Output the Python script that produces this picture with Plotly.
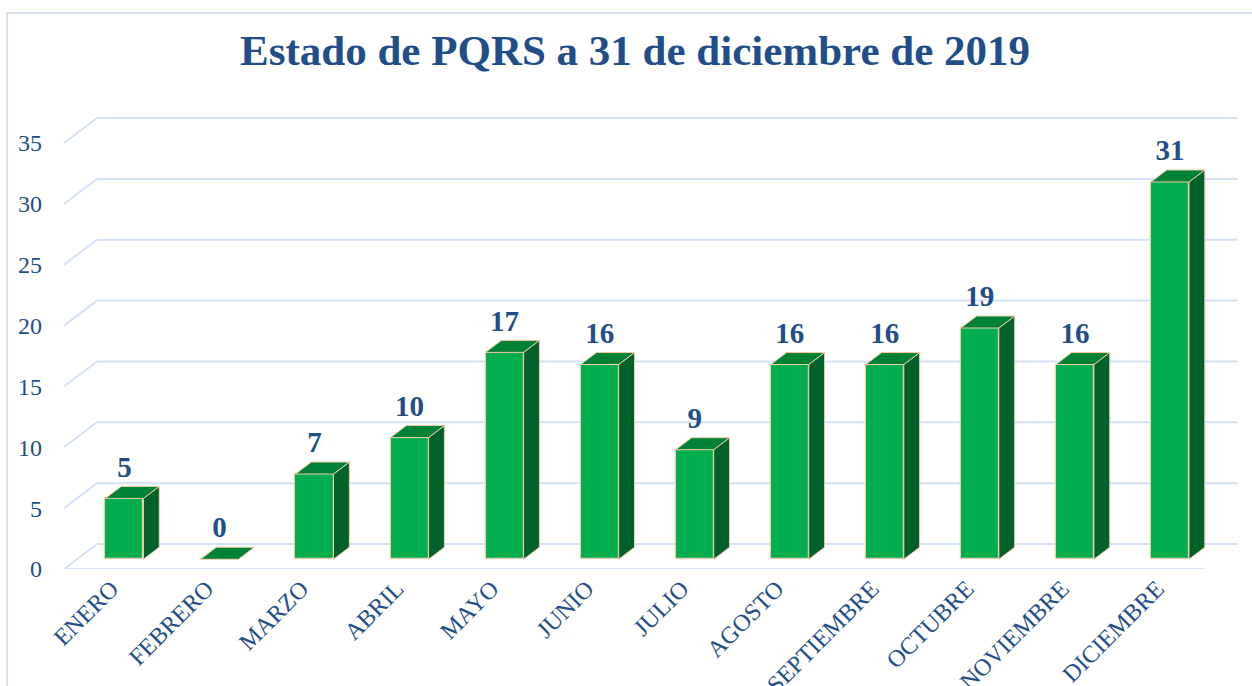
import plotly.graph_objects as go

# ---------------- data ----------------
months = ["ENERO", "FEBRERO", "MARZO", "ABRIL", "MAYO", "JUNIO", "JULIO",
          "AGOSTO", "SEPTIEMBRE", "OCTUBRE", "NOVIEMBRE", "DICIEMBRE"]
values = [5, 0, 7, 10, 17, 16, 9, 16, 16, 19, 16, 31]
y_ticks = [0, 5, 10, 15, 20, 25, 30, 35]
title_text = "Estado de PQRS a 31 de diciembre de 2019"

# ---------------- geometry / style ----------------
W, H = 1252, 686
PX_CAT = 95.05        # pixels per category
PX_VAL = 12.17        # pixels per unit value
FLOOR_PX_Y = 569      # pixel row of floor front edge
LEFT_PX = 64          # pixel column of floor front-left corner
DEPTH_PX_X, DEPTH_PX_Y = 33, 25
DX = DEPTH_PX_X / PX_CAT   # depth offset in x data units
DY = DEPTH_PX_Y / PX_VAL   # depth offset in y data units
D0, D1 = 0.39, 0.87        # bar front/back depth fractions
HALF = 0.2                 # half bar width

m_l, m_r, m_t, m_b = LEFT_PX, 14, 100, H - FLOOR_PX_Y
x0 = -0.5
x1 = x0 + (W - m_l - m_r) / PX_CAT
y1 = (FLOOR_PX_Y - m_t) / PX_VAL

navy = "#1F4E89"
front_c = "#00AD4F"
top_c = "#008236"
side_c = "#00612A"
edge_c = "#F2CDA6"
grid_c = "#D5E2F5"
font_family = "Liberation Serif, Times New Roman, serif"

n = len(months)
xs = list(range(n))

fig = go.Figure()

# back-wall gridlines and left diagonals (below traces)
shapes = []
for v in y_ticks:
    shapes.append(dict(type="line", xref="x", yref="y", layer="below",
                       x0=x0 + DX, y0=v + DY, x1=n - 0.5 + DX, y1=v + DY,
                       line=dict(color=grid_c, width=2)))
    shapes.append(dict(type="line", xref="x", yref="y", layer="below",
                       x0=x0, y0=v, x1=x0 + DX, y1=v + DY,
                       line=dict(color=grid_c, width=2)))
# floor front edge
shapes.append(dict(type="line", xref="x", yref="y", layer="below",
                   x0=x0, y0=0, x1=n - 0.5, y1=0,
                   line=dict(color=grid_c, width=2)))
# chart border
shapes.append(dict(type="rect", xref="paper", yref="paper", layer="below",
                   x0=(7 - m_l) / (W - m_l - m_r), x1=(W + 20 - m_l) / (W - m_l - m_r),
                   y0=-(H + 20 - FLOOR_PX_Y) / (H - m_t - m_b),
                   y1=(FLOOR_PX_Y - 13) / (H - m_t - m_b),
                   line=dict(color="#D6E0F0", width=2), fillcolor="rgba(0,0,0,0)"))

# front faces as bars
fx = [i + D0 * DX for i in xs]
base_y = D0 * DY
fig.add_trace(go.Bar(x=fx, y=values, base=[base_y] * n, width=2 * HALF,
                     marker=dict(color=front_c, line=dict(color=edge_c, width=1.2)),
                     hoverinfo="skip", showlegend=False))

# side and top faces
ddx = (D1 - D0) * DX
ddy = (D1 - D0) * DY
for i, v in zip(xs, values):
    xl = i + D0 * DX - HALF
    xr = i + D0 * DX + HALF
    yb = base_y
    yt = base_y + v
    if v > 0:
        fig.add_trace(go.Scatter(
            x=[xr, xr + ddx, xr + ddx, xr, xr],
            y=[yb, yb + ddy, yt + ddy, yt, yb],
            mode="lines", fill="toself", fillcolor=side_c,
            line=dict(color=edge_c, width=1), hoverinfo="skip", showlegend=False))
    fig.add_trace(go.Scatter(
        x=[xl, xr, xr + ddx, xl + ddx, xl],
        y=[yt, yt, yt + ddy, yt + ddy, yt],
        mode="lines", fill="toself", fillcolor=top_c,
        line=dict(color=edge_c, width=1), hoverinfo="skip", showlegend=False))

# value labels
fig.add_trace(go.Scatter(
    x=fx, y=[base_y + v + 1.2 for v in values],
    mode="text", text=[str(v) for v in values], textposition="top center",
    textfont=dict(family=font_family, size=29, color=navy),
    texttemplate="<b>%{text}</b>", hoverinfo="skip", showlegend=False))

fig.update_layout(
    width=W, height=H,
    margin=dict(l=m_l, r=m_r, t=m_t, b=m_b, pad=0, autoexpand=False),
    paper_bgcolor="white", plot_bgcolor="white",
    title=dict(text="<b>" + title_text + "</b>", x=635 / W, xref="container",
               xanchor="center", y=1 - 50 / H, yref="container", yanchor="middle",
               font=dict(family=font_family, size=43, color=navy)),
    xaxis=dict(range=[x0, x1], tickmode="array", tickvals=xs, ticktext=months,
               tickangle=-45, showgrid=False, zeroline=False, showline=False,
               ticks="", ticklabelstandoff=0, automargin=False,
               tickfont=dict(family=font_family, size=24, color=navy),
               fixedrange=True),
    yaxis=dict(range=[0, y1], tickmode="array", tickvals=y_ticks,
               ticktext=[str(t) for t in y_ticks], showgrid=False, zeroline=False,
               showline=False, ticks="", ticklabelstandoff=21, automargin=False,
               tickfont=dict(family=font_family, size=24, color=navy),
               fixedrange=True),
    shapes=shapes,
    bargap=0,
)

fig.write_html("out.html", config={"displayModeBar": False},
               post_script="document.body.style.margin='0';"
                           "document.body.style.overflow='hidden';")
